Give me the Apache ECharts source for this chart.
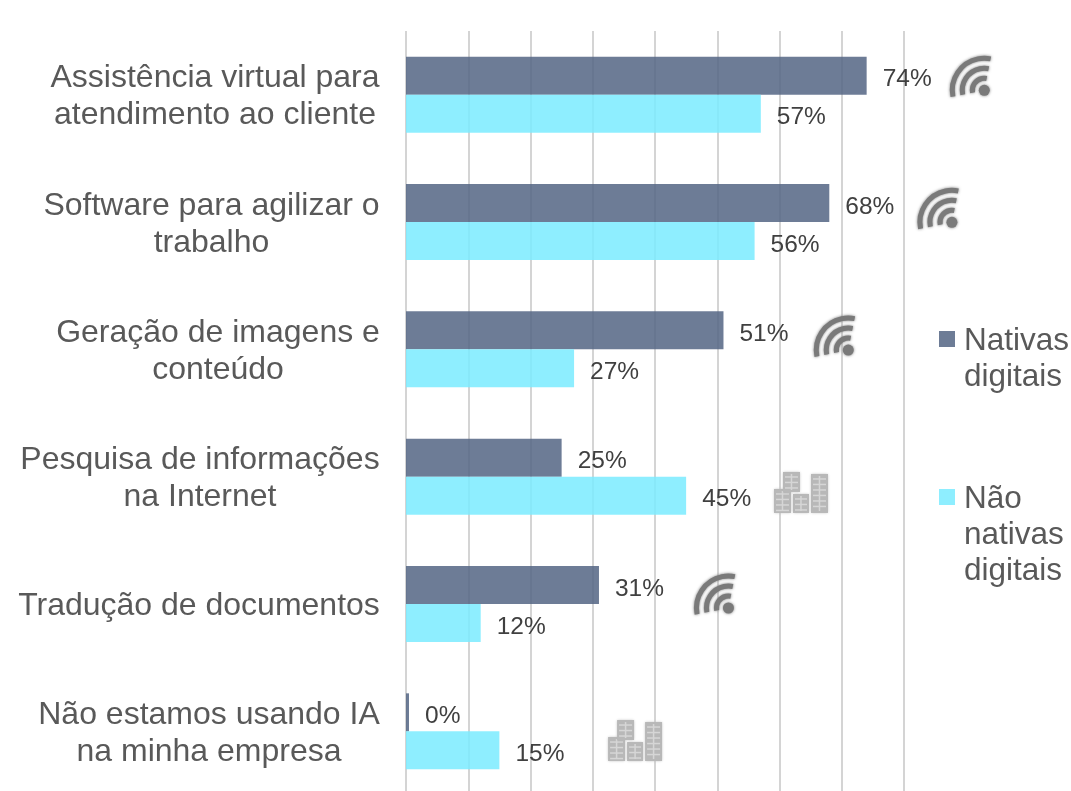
<!DOCTYPE html>
<html>
<head>
<meta charset="utf-8">
<title>Uso de IA</title>
<script src="https://cdn.jsdelivr.net/npm/echarts@6/dist/echarts.min.js"></script>
<style>
  html, body { margin: 0; padding: 0; background: #fff; }
  #chart { width: 1071px; height: 791px; }
</style>
</head>
<body>
<div id="chart"></div>
<script>
const categories = [
  'Assistência virtual para\natendimento ao cliente',
  'Software para agilizar o\ntrabalho',
  'Geração de imagens e\nconteúdo',
  'Pesquisa de informações\nna Internet',
  'Tradução de documentos',
  'Não estamos usando IA\nna minha empresa'
];
const nativas = [74, 68, 51, 25, 31, 0];
const naoNativas = [57, 56, 27, 45, 12, 15];
const iconKinds = ['wifi', 'wifi', 'wifi', 'building', 'wifi', 'building'];
const seriesNames = ['Nativas digitais', 'Não nativas digitais'];

const FONT = '"Liberation Sans", Arial, sans-serif';

// onde cada icone fica: [valor no eixo x, deslocamento vertical em px]
const iconPlaces = [[92.9, -4.4], [87.7, 0.3], [71.05, 0.7], [63.45, 16.3], [51.8, 4], [36.8, 9.7]];

// legenda: cada linha e quebrada a mao, linhas vazias antes para o quadrado ficar na primeira linha
const legendLines = {
  'Nativas digitais': ['Nativas', 'digitais'],
  'Não nativas digitais': ['Não', 'nativas', 'digitais']
};

// rotulos de categoria centrados entre si, mas com o bloco alinhado a direita
const measure = document.createElement('canvas').getContext('2d');
measure.font = '32px "Liberation Sans"';
const labelRich = {};
categories.forEach((name, i) => {
  const widest = Math.max(...name.split('\n').map(line => measure.measureText(line).width));
  labelRich['c' + i] = {
    width: Math.ceil(widest),
    align: 'center',
    fontSize: 32,
    lineHeight: 37,
    padding: [5, 0, 0, 0],
    fontFamily: FONT,
    color: '#595959'
  };
});

const wifiIcon = (x, y) => {
  const color = '#7a7a7a';
  const arc = r => ({
    type: 'arc',
    shape: { cx: x, cy: y, r, startAngle: Math.PI - 0.2, endAngle: Math.PI * 1.5 + 0.2, clockwise: true },
    style: { fill: 'none', stroke: color, lineWidth: 5, shadowBlur: 3, shadowColor: color }
  });
  return {
    type: 'group',
    children: [
      arc(12), arc(22), arc(32),
      { type: 'circle', shape: { cx: x, cy: y, r: 5.5 }, style: { fill: color, shadowBlur: 3, shadowColor: color } }
    ]
  };
};

const buildingIcon = (x, y) => {
  const color = '#b8b8b8';
  const towers = [[-27, -4, 17, 24], [-18, -21, 17, 20], [-8, 1, 16, 19], [10, -19, 17, 39]];
  const children = [];
  towers.forEach(([l, t, w, h]) => {
    children.push({
      type: 'rect',
      shape: { x: x + l, y: y + t, width: w, height: h },
      style: { fill: color, shadowBlur: 3, shadowColor: color }
    });
    // janelas: linhas claras
    for (let yy = t + 5; yy < t + h - 2; yy += 5.5) {
      children.push({
        type: 'line',
        shape: { x1: x + l + 2, y1: y + yy, x2: x + l + w - 2, y2: y + yy },
        style: { stroke: '#d6d6d6', lineWidth: 1.5 }
      });
    }
    children.push({
      type: 'line',
      shape: { x1: x + l + w / 2, y1: y + t + 2, x2: x + l + w / 2, y2: y + t + h - 2 },
      style: { stroke: '#d6d6d6', lineWidth: 1.5 }
    });
  });
  return { type: 'group', children };
};

const valueLabel = {
  show: true,
  position: 'right',
  distance: 16,
  offset: [0, 4],
  formatter: '{c}%',
  fontFamily: FONT,
  fontSize: 24.5,
  color: '#404040'
};

const chart = echarts.init(document.getElementById('chart'), null, { renderer: 'canvas' });

const option = {
  animation: false,
  backgroundColor: '#fff',
  textStyle: { fontFamily: FONT },
  grid: { left: 406, top: 31, width: 498, height: 764, outerBoundsMode: 'none' },
  legend: {
    orient: 'vertical',
    left: 934,
    top: 280,
    itemWidth: 16,
    itemHeight: 16,
    itemGap: 14,
    icon: 'rect',
    selectedMode: false,
    data: seriesNames,
    formatter: name => {
      const lines = legendLines[name];
      const blanks = lines.slice(1).map(() => '{t| }');
      return blanks.concat(lines.map(line => '{t|' + line + '}')).join('\n');
    },
    textStyle: {
      rich: { t: { fontFamily: FONT, fontSize: 31.5, lineHeight: 36, color: '#595959', padding: [4, 0, 0, 4] } }
    }
  },
  xAxis: {
    type: 'value',
    min: 0,
    max: 80,
    interval: 10,
    axisLabel: { show: false },
    axisTick: { show: false },
    axisLine: { show: false },
    splitLine: { show: true, lineStyle: { color: '#d4d4d4', width: 2 } }
  },
  yAxis: {
    type: 'category',
    inverse: true,
    data: categories,
    axisTick: { show: false },
    axisLine: { show: false },
    axisLabel: {
      interval: 0,
      margin: 26,
      align: 'right',
      formatter: value => {
        const i = categories.indexOf(value);
        return value.split('\n').map(line => '{c' + i + '|' + line + '}').join('\n');
      },
      rich: labelRich
    }
  },
  series: [
    {
      name: seriesNames[0],
      type: 'bar',
      data: nativas,
      barWidth: 38,
      barGap: 0,
      barMinHeight: 3,
      itemStyle: { color: 'rgba(84, 101, 132, 0.85)' },
      label: valueLabel
    },
    {
      name: seriesNames[1],
      type: 'bar',
      data: naoNativas,
      barWidth: 38,
      itemStyle: { color: 'rgba(122, 235, 255, 0.85)' },
      label: valueLabel
    },
    {
      type: 'custom',
      silent: true,
      clip: false,
      z: 5,
      data: iconPlaces.map((p, i) => [p[0], i, p[1]]),
      encode: { x: 0, y: 1 },
      renderItem: (params, api) => {
        const pos = api.coord([api.value(0), api.value(1)]);
        const draw = iconKinds[params.dataIndex] === 'wifi' ? wifiIcon : buildingIcon;
        return draw(pos[0], pos[1] + api.value(2));
      }
    }
  ]
};

chart.setOption(option);
window.addEventListener('resize', () => chart.resize());
</script>
</body>
</html>
